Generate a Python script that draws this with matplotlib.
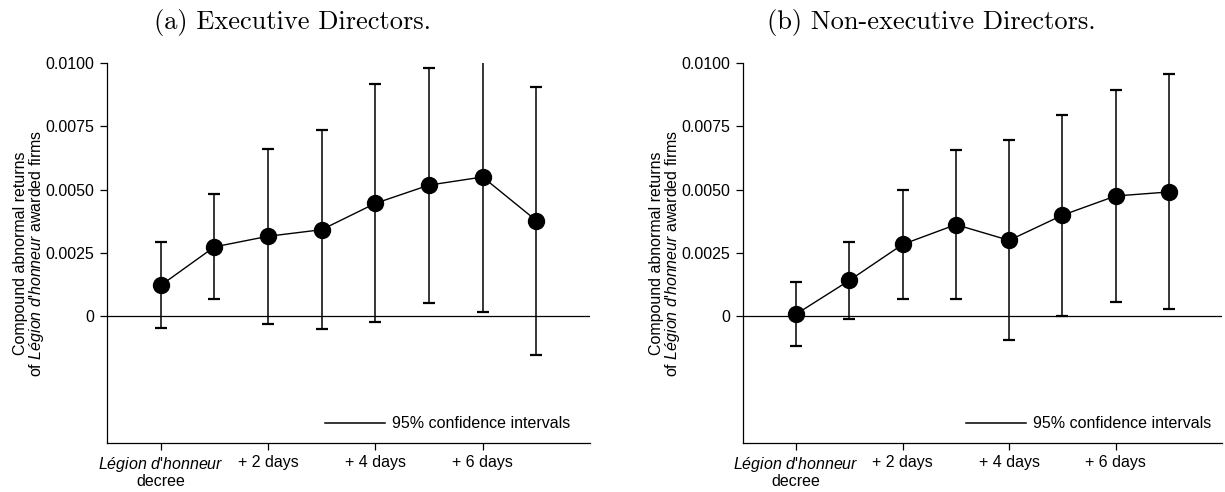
import matplotlib
matplotlib.use("Agg")
import matplotlib.pyplot as plt
from matplotlib.lines import Line2D
import numpy as np

plt.rcParams['font.family'] = ['Liberation Sans', 'DejaVu Sans']
plt.rcParams['mathtext.fontset'] = 'custom'
plt.rcParams['mathtext.rm'] = 'Liberation Sans'
plt.rcParams['mathtext.it'] = 'Liberation Sans:italic'

# event days after the decree
days = [0, 1, 2, 3, 4, 5, 6, 7]
tick_days = [0, 2, 4, 6]
tick_labels = ["$\\mathit{Légion\\ d}$'$\\mathit{honneur}$\ndecree", "+ 2 days", "+ 4 days", "+ 6 days"]

# compound abnormal returns and 95% CI bounds
exec_car = [0.00122, 0.00274, 0.00316, 0.00342, 0.00446, 0.00518, 0.00550, 0.00378]
exec_lo = [-0.00045, 0.00067, -0.00029, -0.00051, -0.00024, 0.00054, 0.00017, -0.00151]
exec_hi = [0.00292, 0.00483, 0.00660, 0.00737, 0.00918, 0.00982, 0.01083, 0.00905]

nonexec_car = [0.00009, 0.00142, 0.00284, 0.00362, 0.00300, 0.00399, 0.00475, 0.00491]
nonexec_lo = [-0.00117, -0.00012, 0.00070, 0.00067, -0.00092, 0.00000, 0.00055, 0.00028]
nonexec_hi = [0.00135, 0.00295, 0.00497, 0.00658, 0.00695, 0.00795, 0.00893, 0.00958]

y_ticks = [0, 0.0025, 0.005, 0.0075, 0.01]
y_tick_labels = ["0", "0.0025", "0.0050", "0.0075", "0.0100"]

titles = ["(a) Executive Directors.", "(b) Non-executive Directors."]
ylabel = "Compound abnormal returns\nof $\\mathit{Légion\\ d}$'$\\mathit{honneur}$ awarded firms"
legend_label = "95% confidence intervals"

fig = plt.figure(figsize=(12.25, 4.92), dpi=100)
ax1 = fig.add_axes([107 / 1225, 49 / 492, 483 / 1225, 380 / 492])
ax2 = fig.add_axes([743 / 1225, 49 / 492, 479 / 1225, 380 / 492])


def draw_panel(ax, car, lo, hi, legend_x):
    car = np.array(car)
    yerr = [car - np.array(lo), np.array(hi) - car]
    ax.axhline(0, color='black', lw=0.9, zorder=1)
    ax.errorbar(days, car, yerr=yerr, fmt='none', ecolor='black', elinewidth=1.1,
                capsize=4, capthick=1.6, zorder=2)
    ax.plot(days, car, '-o', color='black', lw=1.0, markersize=11.5, zorder=3)

    ax.set_xlim(-1, 8)
    ax.set_ylim(-0.005, 0.01)
    ax.set_xticks(tick_days)
    ax.set_xticklabels(tick_labels, fontsize=11.5, linespacing=1.0)
    ax.set_yticks(y_ticks)
    ax.set_yticklabels(y_tick_labels, fontsize=11.5)
    ax.tick_params(axis='both', direction='out', length=5, width=0.9, pad=4)
    for s in ['top', 'right']:
        ax.spines[s].set_visible(False)
    for s in ['left', 'bottom']:
        ax.spines[s].set_linewidth(0.9)
    ax.set_ylabel(ylabel, fontsize=11.5, linespacing=0.9, labelpad=0)

    handle = Line2D([], [], color='black', lw=1.1)
    ax.legend([handle], [legend_label], loc='center right', frameon=False,
              bbox_to_anchor=(legend_x, 0.05), borderaxespad=0, borderpad=0,
              handlelength=3.75, handletextpad=0.45, fontsize=11.5)


draw_panel(ax1, exec_car, exec_lo, exec_hi, 0.959)
draw_panel(ax2, nonexec_car, nonexec_lo, nonexec_hi, 0.977)

fig.text(293 / 1225, 1 - 22 / 492, titles[0], family='cmr10', fontsize=19,
         ha='center', va='center')
fig.text(931 / 1225, 1 - 22 / 492, titles[1], family='cmr10', fontsize=19,
         ha='center', va='center')

fig.savefig("out.png", dpi=100)
